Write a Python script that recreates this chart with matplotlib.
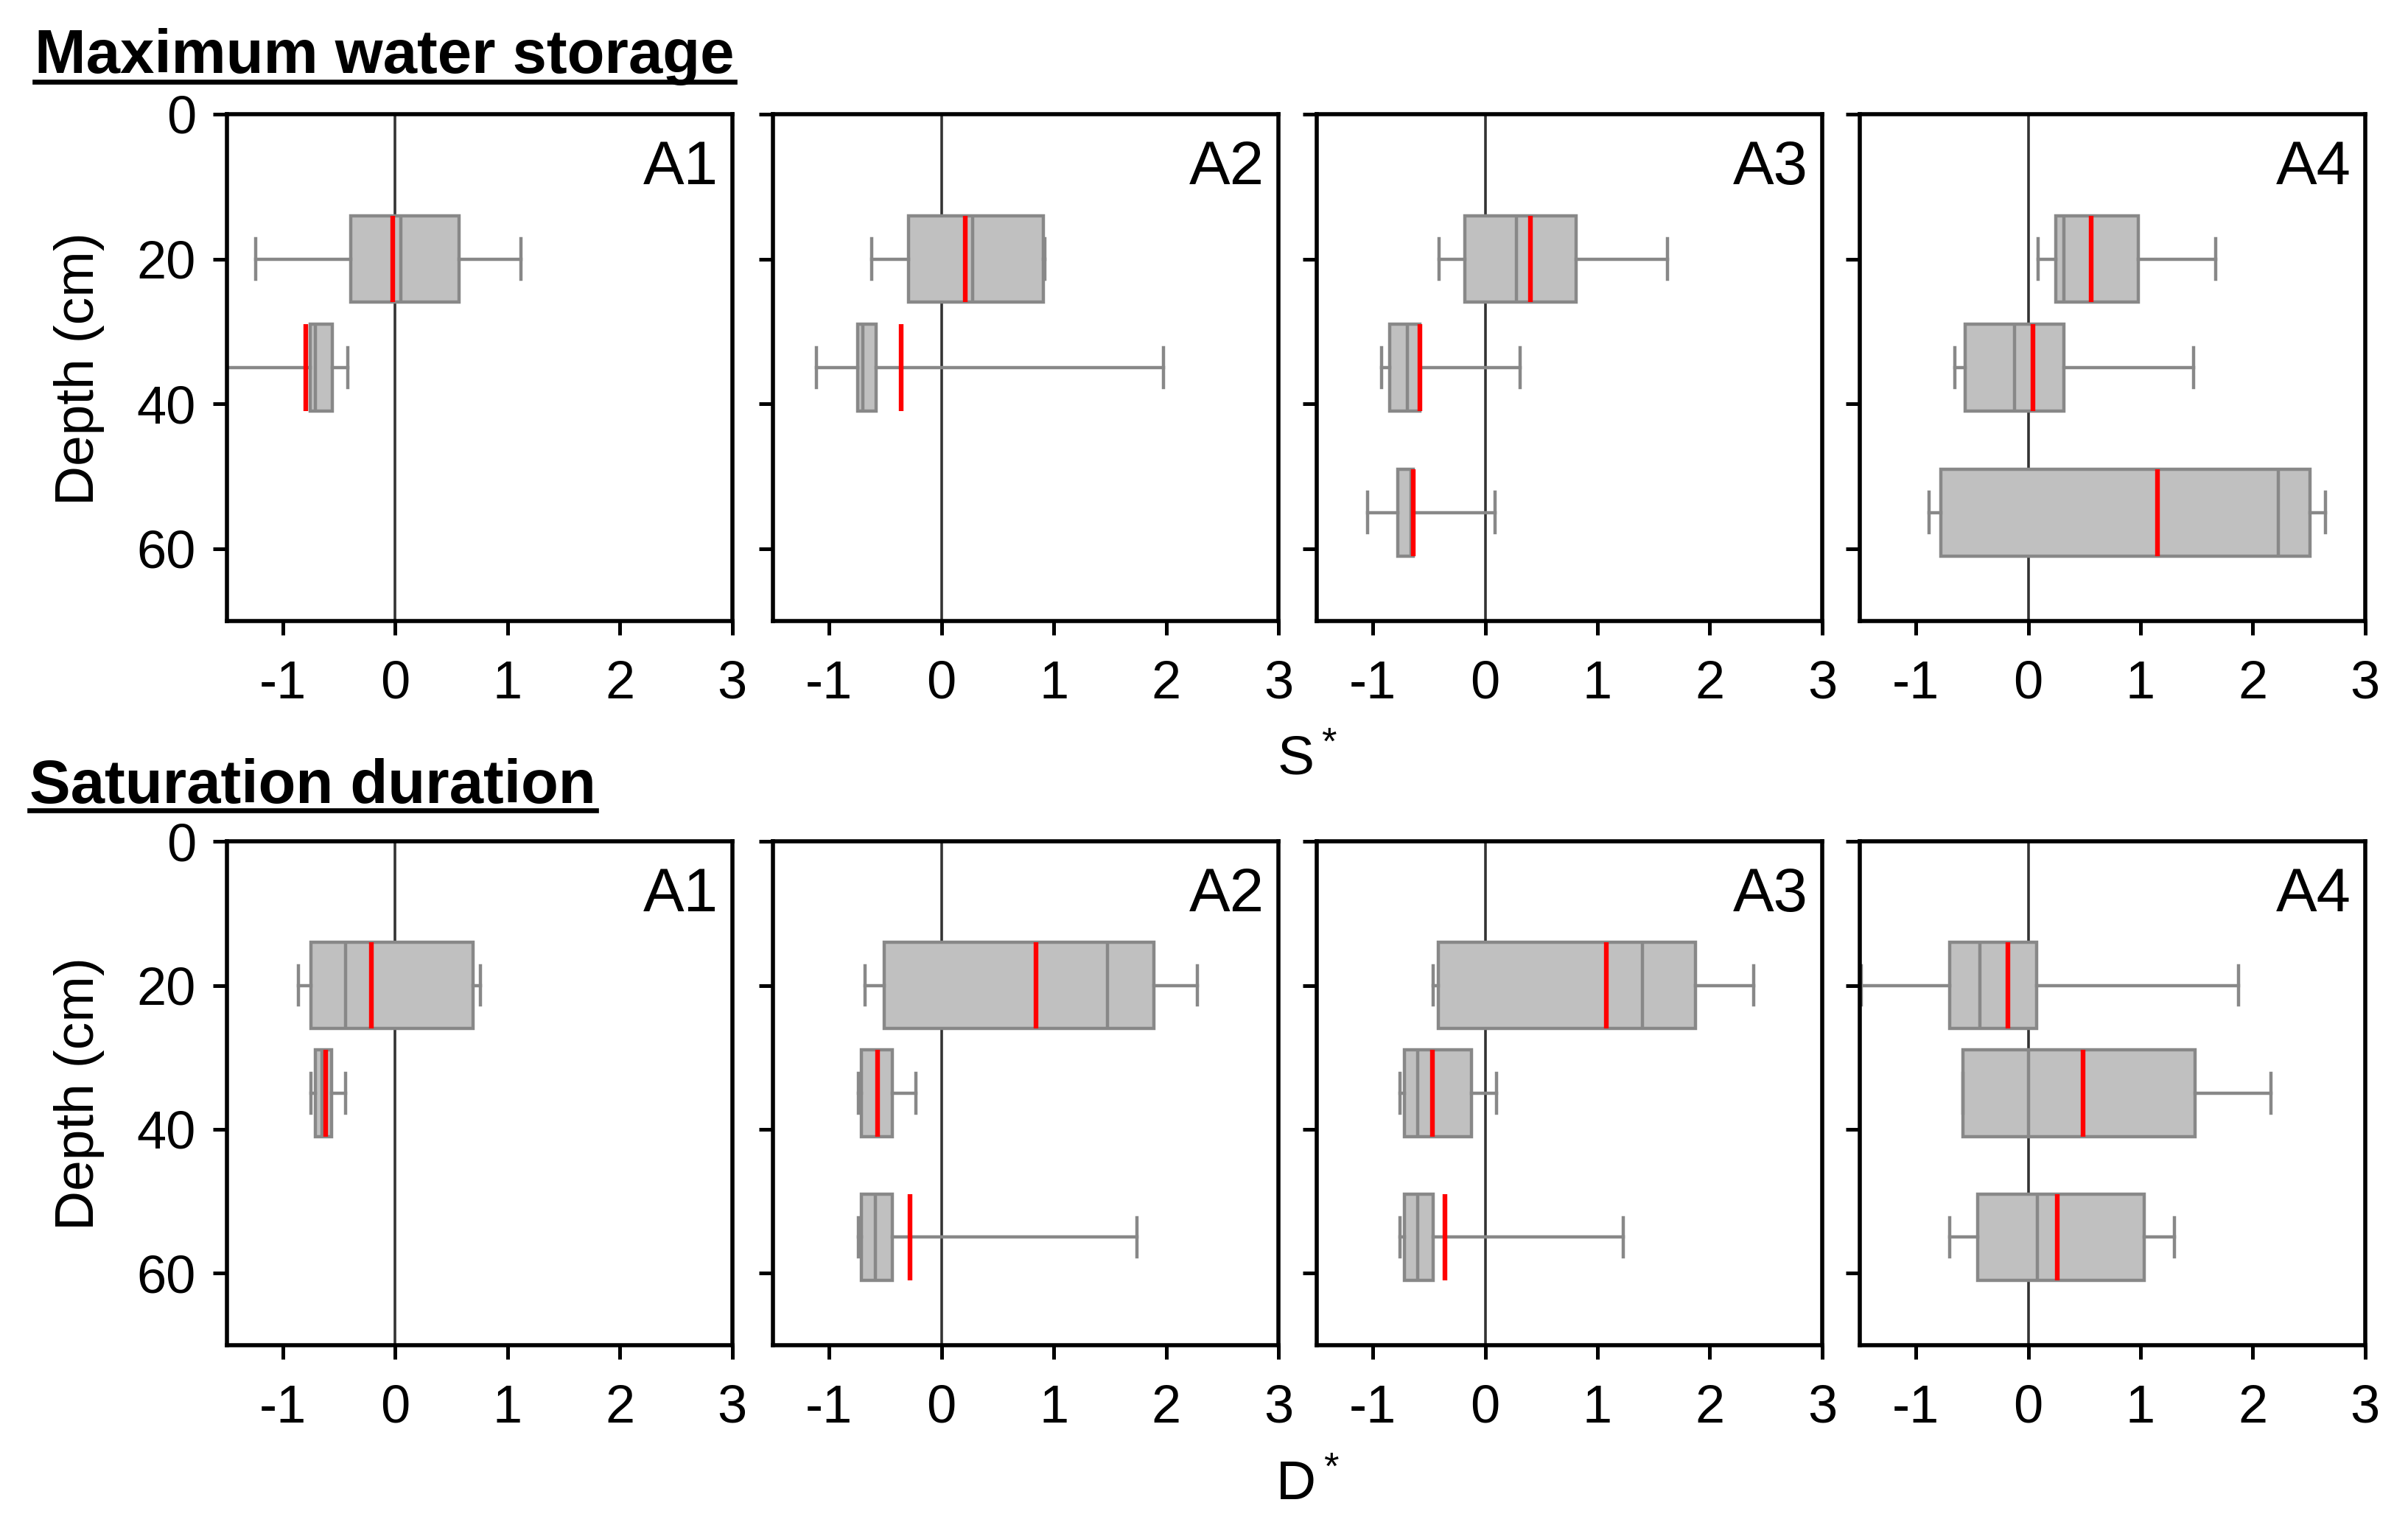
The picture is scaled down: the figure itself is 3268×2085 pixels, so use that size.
import matplotlib
matplotlib.use("Agg")
import matplotlib.pyplot as plt
from matplotlib.lines import Line2D

plt.rcParams['font.family'] = ['Liberation Sans', 'DejaVu Sans']
plt.rcParams['mathtext.default'] = 'regular'

# each row: [whisker low, q1, median, q3, whisker high, mean]
S_DEPTHS = {
    'A1': [20, 35],
    'A2': [20, 35],
    'A3': [20, 35, 55],
    'A4': [20, 35, 55],
}
S_A1 = [[-1.24, -0.40, 0.05, 0.57, 1.12, -0.02],
        [-1.60, -0.76, -0.71, -0.56, -0.42, -0.80]]
S_A2 = [[-0.62, -0.29, 0.28, 0.905, 0.92, 0.215],
        [-1.115, -0.745, -0.70, -0.585, 1.98, -0.36]]
S_A3 = [[-0.41, -0.18, 0.275, 0.81, 1.62, 0.40],
        [-0.92, -0.85, -0.69, -0.58, 0.31, -0.58],
        [-1.05, -0.78, -0.66, -0.64, 0.09, -0.64]]
S_A4 = [[0.09, 0.245, 0.32, 0.98, 1.67, 0.56],
        [-0.65, -0.56, -0.12, 0.32, 1.47, 0.04],
        [-0.88, -0.78, 2.23, 2.51, 2.65, 1.15]]

D_DEPTHS = {
    'A1': [20, 35],
    'A2': [20, 35, 55],
    'A3': [20, 35, 55],
    'A4': [20, 35, 55],
}
D_A1 = [[-0.86, -0.75, -0.44, 0.69, 0.76, -0.21],
        [-0.75, -0.71, -0.65, -0.57, -0.44, -0.62]]
D_A2 = [[-0.68, -0.51, 1.48, 1.89, 2.28, 0.84],
        [-0.74, -0.71, -0.57, -0.44, -0.23, -0.57],
        [-0.74, -0.71, -0.59, -0.44, 1.74, -0.28]]
D_A3 = [[-0.46, -0.42, 1.40, 1.87, 2.39, 1.08],
        [-0.76, -0.72, -0.60, -0.125, 0.10, -0.47],
        [-0.76, -0.72, -0.60, -0.46, 1.23, -0.36]]
D_A4 = [[-1.485, -0.70, -0.43, 0.075, 1.875, -0.18],
        [-0.58, -0.58, 0.0, 1.485, 2.16, 0.49],
        [-0.70, -0.45, 0.08, 1.03, 1.30, 0.26]]

SITES = ['A1', 'A2', 'A3', 'A4']
S_DATA = {'A1': S_A1, 'A2': S_A2, 'A3': S_A3, 'A4': S_A4}
D_DATA = {'A1': D_A1, 'A2': D_A2, 'A3': D_A3, 'A4': D_A4}

X_TICKS = [-1, 0, 1, 2, 3]
Y_TICKS = [0, 20, 40, 60]

BOX_GRAY = '#c0c0c0'
EDGE_GRAY = '#888888'


def draw_panel(ax, rows, depths, site, first):
    stats = []
    for r in rows:
        stats.append(dict(whislo=r[0], q1=r[1], med=r[2], q3=r[3],
                          whishi=r[4], mean=r[5], fliers=[]))
    ax.axvline(0, color='#333333', lw=1.3, zorder=1)
    ax.bxp(stats, positions=depths, widths=12, capwidths=5.5,
           orientation='horizontal', patch_artist=True,
           showmeans=True, meanline=True, showfliers=False,
           boxprops=dict(facecolor=BOX_GRAY, edgecolor=EDGE_GRAY, lw=1.6),
           medianprops=dict(color=EDGE_GRAY, lw=1.6),
           whiskerprops=dict(color=EDGE_GRAY, lw=1.6),
           capprops=dict(color=EDGE_GRAY, lw=1.6),
           meanprops=dict(color='red', lw=2.3, linestyle='-'),
           manage_ticks=False, zorder=2)
    ax.set_xlim(-1.5, 3)
    ax.set_ylim(70, 0)
    ax.set_xticks(X_TICKS)
    ax.set_xticklabels([str(t) for t in X_TICKS])
    ax.set_yticks(Y_TICKS)
    if first:
        ax.set_yticklabels([str(t) for t in Y_TICKS])
    else:
        ax.set_yticklabels([])
    ax.tick_params(axis='both', direction='out', length=7, width=1.8,
                   labelsize=26, color='black')
    ax.tick_params(axis='x', pad=12)
    ax.tick_params(axis='y', pad=8)
    for sp in ax.spines.values():
        sp.set_linewidth(2.0)
        sp.set_color('black')
    ax.text(0.972, 0.95, site, transform=ax.transAxes, ha='right', va='top',
            fontsize=30)


fig = plt.figure(figsize=(16.34, 10.425), dpi=200)

lefts = [0.0942, 0.321, 0.5468, 0.7723]
width = 0.2099

for i, site in enumerate(SITES):
    ax = fig.add_axes([lefts[i], 0.5957, width, 0.330])
    draw_panel(ax, S_DATA[site], S_DEPTHS[site], site, i == 0)
    ax = fig.add_axes([lefts[i], 0.1242, width, 0.328])
    draw_panel(ax, D_DATA[site], D_DEPTHS[site], site, i == 0)

fig.text(0.033, 0.760, 'Depth (cm)', rotation=90, ha='center', va='center', fontsize=27)
fig.text(0.033, 0.288, 'Depth (cm)', rotation=90, ha='center', va='center', fontsize=27)
fig.text(0.543, 0.505, r'$\mathregular{S^*}$', ha='center', va='center', fontsize=27)
fig.text(0.543, 0.033, r'$\mathregular{D^*}$', ha='center', va='center', fontsize=27)

t1 = fig.text(0.0144, 0.9525, 'Maximum water storage', fontsize=30, fontweight='bold',
              ha='left', va='baseline')
t2 = fig.text(0.0122, 0.4772, 'Saturation duration', fontsize=30, fontweight='bold',
              ha='left', va='baseline')

# underline the two section titles
fig.canvas.draw()
inv = fig.transFigure.inverted()
for t, y in [(t1, 0.9468), (t2, 0.4724)]:
    bb = t.get_window_extent().transformed(inv)
    fig.add_artist(Line2D([bb.x0, bb.x1], [y, y], transform=fig.transFigure,
                          color='black', lw=2.4))

fig.savefig('out.png', dpi=200)
